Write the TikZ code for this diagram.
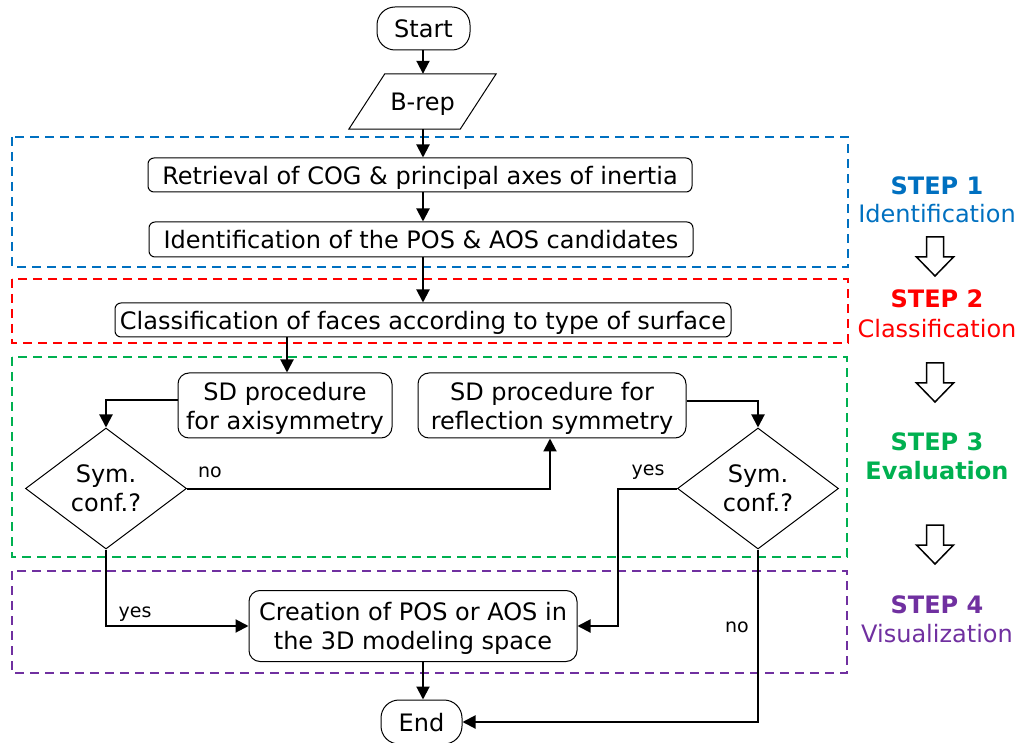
\documentclass[tikz,border=0pt]{standalone}
\usepackage{fontspec}
\setmainfont{DejaVu Sans}
\usetikzlibrary{arrows.meta,shapes.geometric}
\definecolor{sblue}{HTML}{0070C0}
\definecolor{sred}{HTML}{FF0000}
\definecolor{sgreen}{HTML}{00B050}
\definecolor{spurple}{HTML}{7030A0}
\begin{document}
\begin{tikzpicture}[x=1pt,y=-1pt,font=\fontsize{24}{29}\selectfont,
  box/.style={draw,rounded corners=6pt,line width=1pt,inner sep=0pt,align=center,text depth=0pt},
  bigbox/.style={box,rounded corners=11pt},
  term/.style={draw,rounded corners=18pt,line width=1pt,inner sep=0pt,text depth=0pt},
  dec/.style={draw,diamond,line width=1pt,inner sep=0pt,aspect=1.33,align=center,minimum width=161pt,minimum height=121pt},
  conn/.style={line width=2pt,-{Triangle[length=13pt,width=13pt]}},
  frame/.style={dash pattern=on 9pt off 6pt,line width=2.5pt},
  lbl/.style={font=\fontsize{19}{23}\selectfont},
  stepl/.style={anchor=base},
  hollowdown/.pic={\draw[line width=1.5pt,line join=miter] (-8.5,0) -- (8.5,0) -- (8.5,20) -- (18.5,20) -- (0,39) -- (-18.5,20) -- (-8.5,20) -- cycle;}
]
\useasboundingbox (0,0) rectangle (1021,743);

% step frames
\draw[frame,sblue]   (12,137) rectangle (848,267);
\draw[frame,sred]    (12,279) rectangle (848,343);
\draw[frame,sgreen]  (12,357) rectangle (847,557);
\draw[frame,spurple] (12,571) rectangle (847,673);

% nodes
\node[term,minimum width=93pt,minimum height=43pt] (start) at (423.5,28.5) {Start};
\node[inner sep=0pt,text depth=0pt,minimum width=111pt,minimum height=55pt] (brep) at (422.5,101.5) {B-rep};
\draw[line width=1pt] ([xshift=18pt]brep.north west) -- ([xshift=18pt]brep.north east)
  -- ([xshift=-18pt]brep.south east) -- ([xshift=-18pt]brep.south west) -- cycle;
\node[box,minimum width=544pt,minimum height=34pt] (retr) at (420,175) {Retrieval of COG \& principal axes of inertia};
\node[box,minimum width=544pt,minimum height=35pt] (ident) at (421,239.5) {Identification of the POS \& AOS candidates};
\node[box,minimum width=616pt,minimum height=34pt] (class) at (423,320) {Classification of faces according to type of surface};
\node[bigbox,minimum width=214pt,minimum height=65pt] (sd1) at (285,405.5) {SD procedure\\for axisymmetry};
\node[bigbox,minimum width=268pt,minimum height=65pt] (sd2) at (552,405.5) {SD procedure for\\reflection symmetry};
\node[dec] (d1) at (106,488.5) {Sym.\\conf.?};
\node[dec] (d2) at (758,488.5) {Sym.\\conf.?};
\node[bigbox,minimum width=328pt,minimum height=71pt] (creat) at (413,626) {Creation of POS or AOS in\\the 3D modeling space};
\node[term,minimum width=81pt,minimum height=44pt] (endn) at (421.5,722) {End};

\coordinate (cx) at (423,0);
\coordinate (j2) at (618,0);

% connectors
\draw[conn] (cx |- start.south) -- (cx |- brep.north);
\draw[conn] (cx |- brep.south) -- (cx |- retr.north);
\draw[conn] (cx |- retr.south) -- (cx |- ident.north);
\draw[conn] (cx |- ident.south) -- (cx |- class.north);
\draw[conn] (287,0 |- class.south) -- (287,0 |- sd1.north);
\draw[conn] ([yshift=5pt]sd1.west) -| (d1.north);
\draw[conn] ([yshift=4pt]sd2.east) -| (d2.north);
\draw[conn] (d1.east) -| ([xshift=-2pt]sd2.south);
\draw[conn] (d2.west) -- (j2 |- d2.west) -- (j2 |- creat.east) -- (creat.east);
\draw[conn] (d1.south) |- (creat.west);
\draw[conn] (cx |- creat.south) -- (cx |- endn.north);
\draw[conn] (d2.south) |- (endn.east);

% connector labels
\node[lbl] (lno1) at (210,472) {no};
\node[lbl] (lyes1) at (648,472) {yes};
\node[lbl] (lyes2) at (135,614) {yes};
\node[lbl] (lno2) at (737,627) {no};

% step labels
\node[stepl,text=sblue] (s1a) at (937,195) {\bfseries STEP 1};
\node[stepl,text=sblue] (s1b) at (937,223) {Identification};
\node[stepl,text=sred] (s2a) at (937,308) {\bfseries STEP 2};
\node[stepl,text=sred] (s2b) at (937,338) {Classification};
\node[stepl,text=sgreen] (s3a) at (937,450) {\bfseries STEP 3};
\node[stepl,text=sgreen] (s3b) at (937,479) {\bfseries Evaluation};
\node[stepl,text=spurple] (s4a) at (937,613) {\bfseries STEP 4};
\node[stepl,text=spurple] (s4b) at (937,642) {Visualization};

\pic at (935,237) {hollowdown};
\pic at (935,363) {hollowdown};
\pic at (935,525) {hollowdown};
\end{tikzpicture}
\end{document}
